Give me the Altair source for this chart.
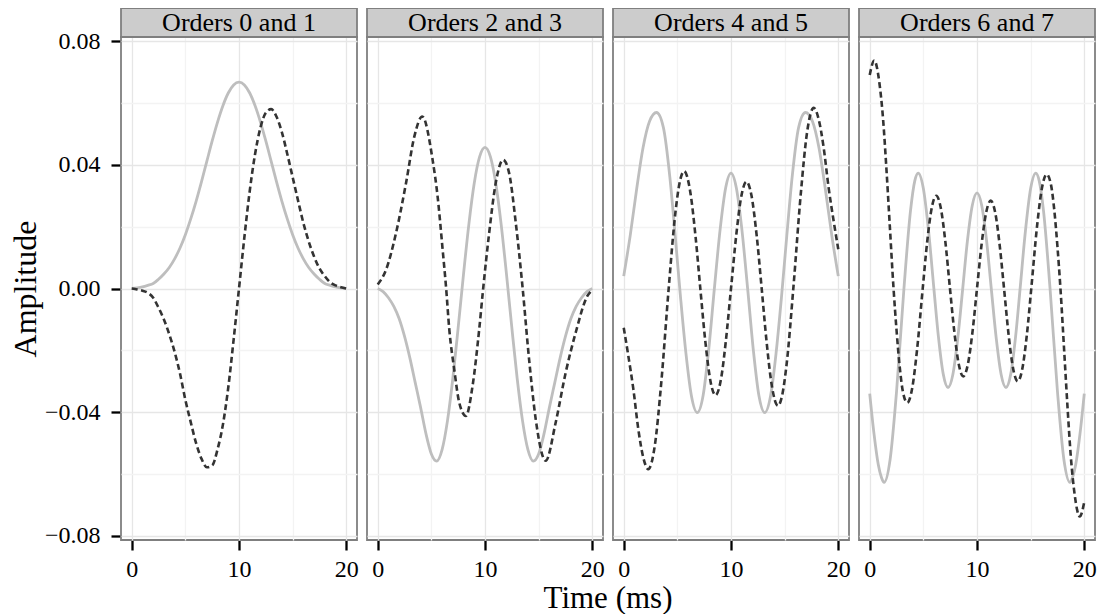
import altair as alt
import pandas as pd

FONT = "Liberation Serif"
PANELS = ["Orders 0 and 1", "Orders 2 and 3", "Orders 4 and 5", "Orders 6 and 7"]

# --- time grid (ms) used by the smooth low-order curves ---
GRID_T = [0.0, 0.5, 1.0, 1.5, 2.0, 2.5, 3.0, 3.5, 4.0, 4.5, 5.0, 5.5, 6.0, 6.5,
          7.0, 7.5, 8.0, 8.5, 9.0, 9.5, 10.0, 10.5, 11.0, 11.5, 12.0, 12.5,
          13.0, 13.5, 14.0, 14.5, 15.0, 15.5, 16.0, 16.5, 17.0, 17.5, 18.0,
          18.5, 19.0, 19.5, 20.0]

# Orders 0 (solid) and 1 (dashed)
P1_EVEN_V = [0.0000, 0.0002, 0.0005, 0.0010, 0.0016, 0.0030, 0.0047, 0.0068,
             0.0096, 0.0131, 0.0174, 0.0225, 0.0282, 0.0345, 0.0411, 0.0477,
             0.0538, 0.0591, 0.0632, 0.0658, 0.0667, 0.0658, 0.0632, 0.0591,
             0.0538, 0.0477, 0.0411, 0.0345, 0.0282, 0.0225, 0.0174, 0.0131,
             0.0096, 0.0068, 0.0047, 0.0030, 0.0016, 0.0010, 0.0005, 0.0002,
             0.0000]
P1_ODD_V = [0.0000, -0.0003, -0.0007, -0.0014, -0.0030, -0.0062, -0.0100,
            -0.0148, -0.0205, -0.0275, -0.0360, -0.0432, -0.0500, -0.0550,
            -0.0578, -0.0572, -0.0520, -0.0440, -0.0320, -0.0165, 0.0000,
            0.0165, 0.0315, 0.0435, 0.0520, 0.0568, 0.0580, 0.0555, 0.0505,
            0.0435, 0.0360, 0.0285, 0.0212, 0.0152, 0.0103, 0.0065, 0.0040,
            0.0020, 0.0010, 0.0004, 0.0000]

# Orders 2 (solid) and 3 (dashed)
P2_EVEN_V = [0.0000, -0.0010, -0.0030, -0.0058, -0.0098, -0.0155, -0.0225,
             -0.0305, -0.0385, -0.0470, -0.0535, -0.0558, -0.0521, -0.0428,
             -0.0291, -0.0126, 0.0047, 0.0209, 0.0341, 0.0426, 0.0456, 0.0426,
             0.0341, 0.0209, 0.0047, -0.0126, -0.0291, -0.0428, -0.0521,
             -0.0558, -0.0535, -0.0470, -0.0385, -0.0305, -0.0225, -0.0155,
             -0.0098, -0.0058, -0.0030, -0.0010, 0.0000]
P2_ODD_T = [0.0, 0.78, 1.71, 2.64, 3.41, 4.15, 5.12, 5.58, 6.05, 6.36, 6.67,
            7.13, 7.6, 8.22, 8.84, 9.46, 9.83, 10.39, 11.0, 11.69, 12.25,
            12.87, 13.49, 14.11, 14.73, 15.66, 16.59, 17.52, 18.45, 19.53, 20.0]
P2_ODD_V = [0.0013, 0.0061, 0.0180, 0.0341, 0.0491, 0.0556, 0.0415, 0.0298,
            0.0126, 0.0008, -0.0132, -0.0261, -0.0369, -0.0412, -0.0315,
            -0.0132, 0.0000, 0.0180, 0.0341, 0.0416, 0.0373, 0.0212, 0.0008,
            -0.0229, -0.0423, -0.0557, -0.0433, -0.0272, -0.0143, -0.0025,
            -0.0005]

# Orders 4 (solid) and 5 (dashed)
P3_EVEN_T = [0.0, 0.6, 1.2, 1.8, 2.4, 3.06, 3.7, 4.3, 4.8, 5.3, 5.8, 6.3, 6.86,
             7.4, 7.9, 8.45, 9.0, 9.5, 10.0, 10.5, 11.0, 11.55, 12.1, 12.6,
             13.14, 13.7, 14.2, 14.7, 15.2, 15.7, 16.3, 16.94, 17.6, 18.2,
             18.8, 19.4, 20.0]
P3_EVEN_V = [0.0040, 0.0170, 0.0320, 0.0455, 0.0540, 0.0569, 0.0520, 0.0360,
             0.0170, -0.0030, -0.0210, -0.0345, -0.0401, -0.0346, -0.0205,
             0.0000, 0.0195, 0.0325, 0.0373, 0.0325, 0.0195, 0.0000, -0.0205,
             -0.0346, -0.0401, -0.0345, -0.0210, -0.0030, 0.0170, 0.0360,
             0.0520, 0.0569, 0.0540, 0.0455, 0.0320, 0.0170, 0.0040]
P3_ODD_T = [0.0, 0.43, 0.9, 1.36, 1.82, 2.29, 2.9, 3.5, 4.19, 4.8, 5.2, 5.63,
            6.2, 6.7, 7.14, 7.6, 8.1, 8.56, 9.1, 9.5, 10.0, 10.5, 10.9, 11.44,
            11.9, 12.4, 12.86, 13.3, 13.8, 14.37, 14.8, 15.2, 15.81, 16.5,
            17.1, 17.71, 18.18, 18.64, 19.1, 19.57, 20.0]
P3_ODD_V = [-0.0127, -0.0218, -0.0326, -0.0455, -0.0546, -0.0584, -0.0507,
            -0.0304, 0.0000, 0.0240, 0.0340, 0.0379, 0.0313, 0.0166, 0.0000,
            -0.0169, -0.0302, -0.0345, -0.0286, -0.0176, 0.0000, 0.0176,
            0.0286, 0.0345, 0.0302, 0.0169, 0.0000, -0.0166, -0.0313, -0.0379,
            -0.0340, -0.0240, 0.0000, 0.0304, 0.0507, 0.0584, 0.0546, 0.0455,
            0.0326, 0.0218, 0.0127]

# Orders 6 (solid) and 7 (dashed)
P4_EVEN_T = [0.0, 0.4, 0.8, 1.1, 1.34, 1.9, 2.5, 3.19, 3.8, 4.2, 4.52, 5.0, 5.5,
             5.98, 6.4, 6.85, 7.3, 7.75, 8.2, 8.67, 9.1, 9.55, 10.0, 10.45,
             10.9, 11.33, 11.8, 12.25, 12.7, 13.15, 13.6, 14.02, 14.5, 15.0,
             15.48, 15.8, 16.2, 16.81, 17.5, 18.1, 18.66, 18.9, 19.2, 19.6, 20.0]
P4_EVEN_V = [-0.0340, -0.0470, -0.0570, -0.0612, -0.0627, -0.0553, -0.0333,
             0.0000, 0.0251, 0.0348, 0.0373, 0.0323, 0.0181, 0.0000, -0.0155,
             -0.0276, -0.0320, -0.0278, -0.0163, 0.0000, 0.0152, 0.0267,
             0.0309, 0.0267, 0.0152, 0.0000, -0.0163, -0.0278, -0.0320,
             -0.0276, -0.0155, 0.0000, 0.0181, 0.0323, 0.0373, 0.0348, 0.0251,
             0.0000, -0.0333, -0.0553, -0.0627, -0.0612, -0.0570, -0.0470,
             -0.0340]
P4_ODD_T = [0.0, 0.42, 0.9, 1.25, 1.55, 1.85, 2.22, 2.5, 2.8, 3.1, 3.5, 3.95,
            4.4, 4.94, 5.35, 5.8, 6.2, 6.62, 7.04, 7.48, 7.88, 8.3, 8.72, 9.15,
            9.58, 10.0, 10.42, 10.85, 11.28, 11.7, 12.12, 12.52, 12.96, 13.38,
            13.8, 14.2, 14.65, 15.06, 15.6, 16.05, 16.5, 16.9, 17.2, 17.5,
            17.78, 18.15, 18.45, 18.75, 19.1, 19.58, 20.0]
P4_ODD_V = [0.0690, 0.0737, 0.0665, 0.0545, 0.0390, 0.0215, 0.0000, -0.0135,
            -0.0255, -0.0335, -0.0369, -0.0324, -0.0202, 0.0000, 0.0149,
            0.0264, 0.0300, 0.0261, 0.0154, 0.0000, -0.0138, -0.0245, -0.0284,
            -0.0245, -0.0140, 0.0000, 0.0140, 0.0245, 0.0284, 0.0245, 0.0138,
            0.0000, -0.0154, -0.0261, -0.0300, -0.0264, -0.0149, 0.0000,
            0.0202, 0.0324, 0.0369, 0.0335, 0.0255, 0.0135, 0.0000, -0.0215,
            -0.0390, -0.0545, -0.0665, -0.0737, -0.0690]

X_TICKS = [0, 5, 10, 15, 20]
Y_TICKS = [-0.08, -0.06, -0.04, -0.02, 0.0, 0.02, 0.04, 0.06, 0.08]

series = [
    (PANELS[0], "even", GRID_T, P1_EVEN_V),
    (PANELS[0], "odd", GRID_T, P1_ODD_V),
    (PANELS[1], "even", GRID_T, P2_EVEN_V),
    (PANELS[1], "odd", P2_ODD_T, P2_ODD_V),
    (PANELS[2], "even", P3_EVEN_T, P3_EVEN_V),
    (PANELS[2], "odd", P3_ODD_T, P3_ODD_V),
    (PANELS[3], "even", P4_EVEN_T, P4_EVEN_V),
    (PANELS[3], "odd", P4_ODD_T, P4_ODD_V),
]
rows = []
for panel, kind, ts, vs in series:
    for t, v in zip(ts, vs):
        rows.append({"panel": panel, "kind": kind, "t": t, "v": v})
df = pd.DataFrame(rows)

W, H, STRIP = 236, 503, 29

x_enc = alt.X(
    "t:Q",
    scale=alt.Scale(domain=[-1, 21], nice=False, zero=False),
    axis=alt.Axis(
        values=X_TICKS,
        title=None,
        labelExpr="datum.value % 10 == 0 ? datum.label : ''",
        tickOpacity={"condition": {"test": "datum.value % 10 != 0", "value": 0}, "value": 1},
        gridColor={"condition": {"test": "datum.value % 10 != 0", "value": "#f3f3f3"}, "value": "#e6e6e6"},
        labelPadding=7,
    ),
)
y_enc = alt.Y(
    "v:Q",
    scale=alt.Scale(domain=[-0.0813, 0.0813], nice=False, zero=False),
    axis=alt.Axis(
        values=Y_TICKS,
        title="Amplitude",
        labelExpr="abs(round(datum.value*100)) % 4 == 0 ? (datum.value < 0 ? '\u2212' + format(-datum.value, '.2f') : format(datum.value, '.2f')) : ''",
        tickOpacity={"condition": {"test": "abs(round(datum.value*100)) % 4 != 0", "value": 0}, "value": 1},
        gridColor={"condition": {"test": "abs(round(datum.value*100)) % 4 != 0", "value": "#f3f3f3"}, "value": "#e6e6e6"},
        labelPadding=11,
        titlePadding=2,
    ),
)

strip = alt.Chart().mark_rect(fill="#cccccc", stroke="#7f7f7f", strokeWidth=1.8).encode(
    x=alt.value(0), x2=alt.value(W), y=alt.value(-STRIP), y2=alt.value(0)
).transform_aggregate(n="count()", groupby=["panel"])

strip_text = alt.Chart().mark_text(font=FONT, fontSize=26, color="black", baseline="middle", align="center").encode(
    x=alt.value(W / 2), y=alt.value(-14.5), text="panel:N"
).transform_aggregate(n="count()", groupby=["panel"])

solid = alt.Chart().mark_line(color="#bebebe", strokeWidth=2.8, interpolate="monotone").encode(
    x=x_enc, y=y_enc
).transform_filter("datum.kind == 'even'")

dashed = alt.Chart().mark_line(color="#333333", strokeWidth=2.6, strokeDash=[6, 3.5], interpolate="monotone").encode(
    x=x_enc, y=y_enc
).transform_filter("datum.kind == 'odd'")

base = alt.layer(strip, strip_text, solid, dashed, data=df).properties(width=W, height=H)

chart = base.facet(
    column=alt.Column(
        "panel:N",
        sort=PANELS,
        header=alt.Header(
            labels=False,
            title="Time (ms)",
            titleOrient="bottom",
            titleFont=FONT,
            titleFontSize=31,
            titleFontWeight="normal",
            titleColor="black",
            titlePadding=-7,
        ),
    ),
    spacing=10,
    bounds="flush",
).properties(
    padding={"left": 1, "top": -2, "right": 0, "bottom": 0}
).configure_view(
    stroke="#7f7f7f", strokeWidth=1.8
).configure_axis(
    labelFont=FONT, labelFontSize=24, labelColor="black",
    titleFont=FONT, titleFontSize=32, titleFontWeight="normal", titleColor="black",
    tickColor="black", tickWidth=2.3, tickSize=10, domain=False, gridWidth=1.3,
)

chart.save("out.html", embed_options={"renderer": "svg", "actions": False})
